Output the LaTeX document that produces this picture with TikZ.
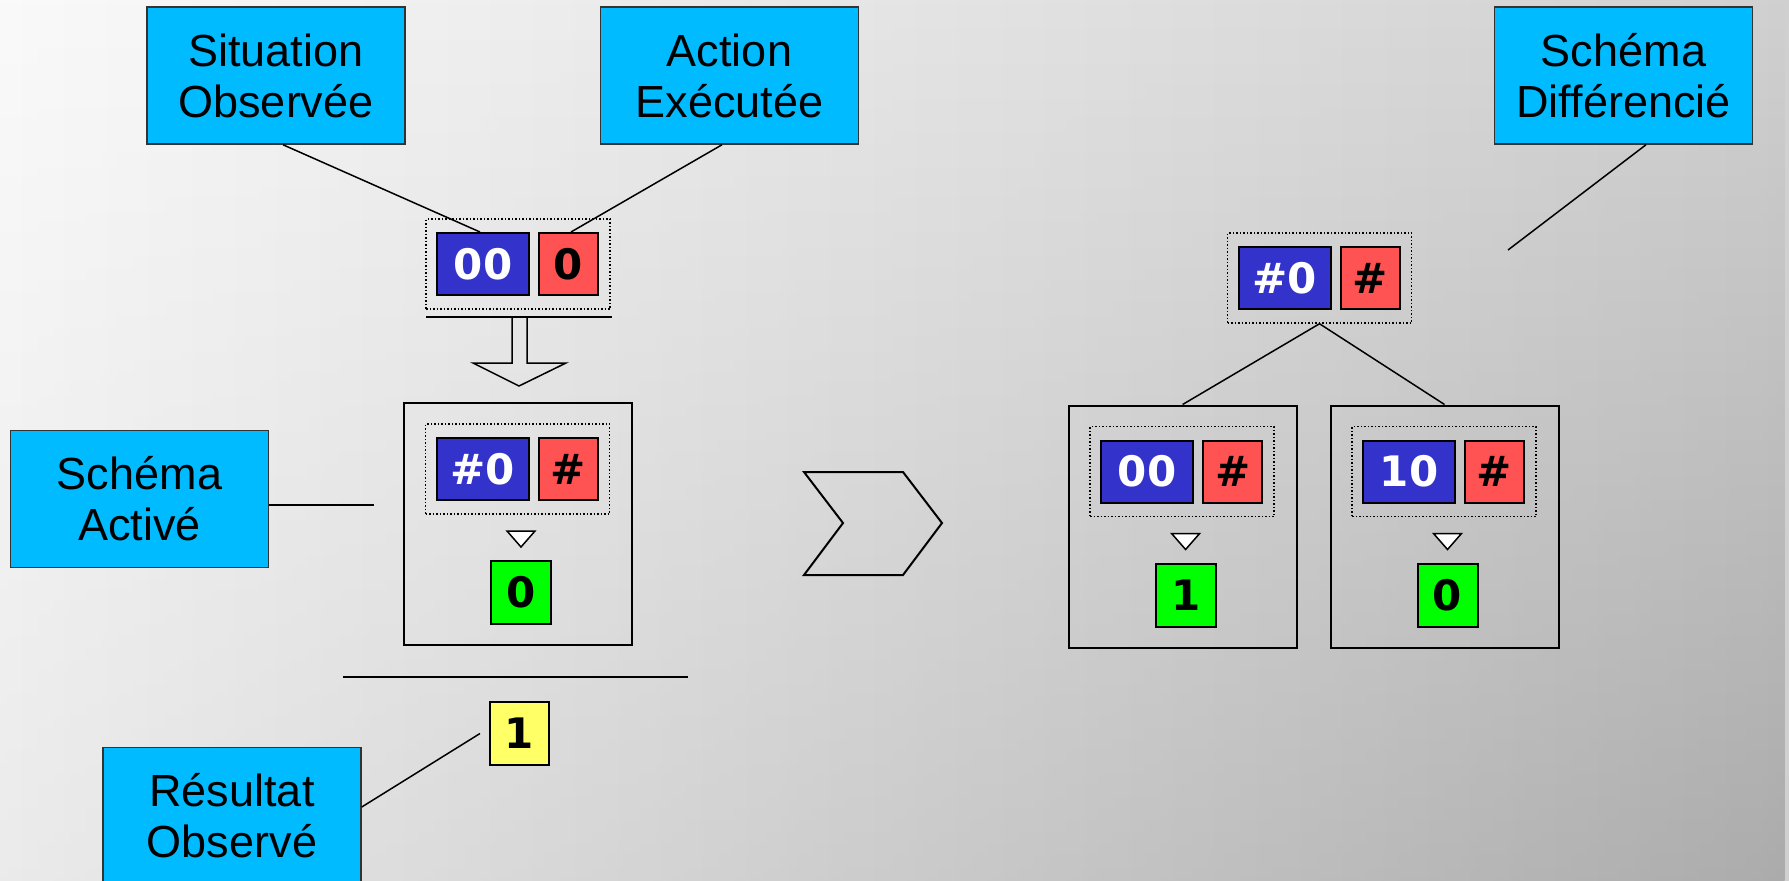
\documentclass[tikz,border=0pt]{standalone}
\usepackage{fontspec}
\setmainfont{Liberation Sans}
\newfontfamily\cellfont{DejaVu Sans}
\usetikzlibrary{fadings}
\definecolor{bgL}{HTML}{FAFAFA}
\definecolor{bgR}{HTML}{D0D0D0}
\definecolor{ovL}{HTML}{C8C8C8}
\definecolor{ovR}{HTML}{575757}
\definecolor{labelcyan}{HTML}{00BBFF}
\definecolor{cblue}{HTML}{3333CC}
\definecolor{cred}{HTML}{FF5252}
\definecolor{cgreen}{HTML}{00FF00}
\definecolor{cyellow}{HTML}{FFFF66}
\tikzset{
  lbl/.style={draw=black!80, line width=1.5pt, fill=labelcyan, minimum width=258pt, minimum height=137pt, align=center, inner sep=0pt, font=\fontsize{45}{51}\selectfont},
  cell/.style={draw=black, line width=2pt, minimum height=62pt, inner sep=0pt, font=\cellfont\bfseries\fontsize{42}{42}\selectfont},
  ccell/.style={cell, fill=cblue, text=white, minimum width=92pt},
  acell/.style={cell, fill=cred, minimum width=59pt},
  rcell/.style={cell, fill=cgreen, minimum width=60pt, minimum height=63pt},
  dotbox/.style={draw=black, line width=1.5pt, dash pattern=on 1.5pt off 2pt, minimum width=184pt, minimum height=90pt, inner sep=0pt},
  frame/.style={draw=black, line width=2pt, minimum width=228pt, minimum height=242pt, inner sep=0pt},
  conn/.style={draw=black, line width=1.5pt},
  tri/.style={draw=black, line width=1.5pt, fill=white, line join=miter},
  outline/.style={draw=black, line width=2pt, line join=miter},
}
\newcommand\condpair[5]{%
  \node[dotbox] (#1) at (#2+92,#3+45) {};
  \node[ccell] (#1c) at (#2+57,#3+45) {#4};
  \node[acell] (#1a) at (#2+142.5,#3+45) {#5};
}
\newcommand\schemabox[6]{%
  \node[frame] (#1) at (#2+114,#3+121) {};
  \condpair{#1d}{#2+21.5}{#3+21}{#4}{#5}
  \draw[tri] (#2+103,#3+128) -- (#2+131,#3+128) -- (#2+117,#3+144) -- cycle;
  \node[rcell] (#1r) at (#2+117,#3+189.5) {#6};
}
\begin{document}
\begin{tikzpicture}[x=1pt,y=-1pt]
\useasboundingbox (0,0) rectangle (1789,881);
\clip (0,0) rectangle (1789,881);
\shade[left color=bgL, right color=bgR] (0,0) rectangle (1789,881);
\shade[left color=ovL, right color=ovR, opacity=0.3, path fading=north] (0,0) rectangle (1789,881);

% left part
\condpair{obs}{426}{219}{00}{0}
\draw[outline] (426,317) -- (612,317);
\draw[conn, line join=miter] (512,317) -- (512,363) -- (473,363) -- (519,386) -- (566,363) -- (527,363) -- (527,317);
\schemabox{sa}{404}{403}{\#0}{\#}{0}
\draw[outline] (343,677) -- (688,677);
\node[rcell, fill=cyellow, minimum width=59pt] (res) at (519.5,733.5) {1};

% chevron
\draw[outline] (804,472) -- (903,472) -- (942,523) -- (903,575) -- (804,575) -- (843,523) -- cycle;

% right part
\condpair{gen}{1227.5}{233}{\#0}{\#}
\schemabox{sda}{1068.6}{405.5}{00}{\#}{1}
\schemabox{sdb}{1330.5}{405.5}{10}{\#}{0}
\draw[conn] (gen.south) -- (sda.north);
\draw[conn] (gen.south) -- (sdb.north);

% labels
\node[lbl] (lso) at (276,75.5) {Situation\\Observée};
\node[lbl] (lae) at (729.5,75.5) {Action\\Exécutée};
\node[lbl] (lsd) at (1623.5,75.5) {Schéma\\Différencié};
\node[lbl] (lsa) at (139.5,499) {Schéma\\Activé};
\node[lbl] (lro) at (232,816) {Résultat\\Observé};

\coordinate (saend) at (374,505);
\coordinate (sdend) at (1508,250);
\draw[conn] ([xshift=7pt]lso.south) -- ([xshift=-3pt]obsc.north);
\draw[conn] ([xshift=-7.5pt]lae.south) -- ([xshift=2.5pt]obsa.north);
\draw[conn] ([yshift=-6pt]lsa.east) -- (saend);
\draw[conn] ([yshift=9pt]lro.east) -- ([xshift=-9pt]res.west);
\draw[conn] ([xshift=22.5pt]lsd.south) -- (sdend);
\end{tikzpicture}
\end{document}
